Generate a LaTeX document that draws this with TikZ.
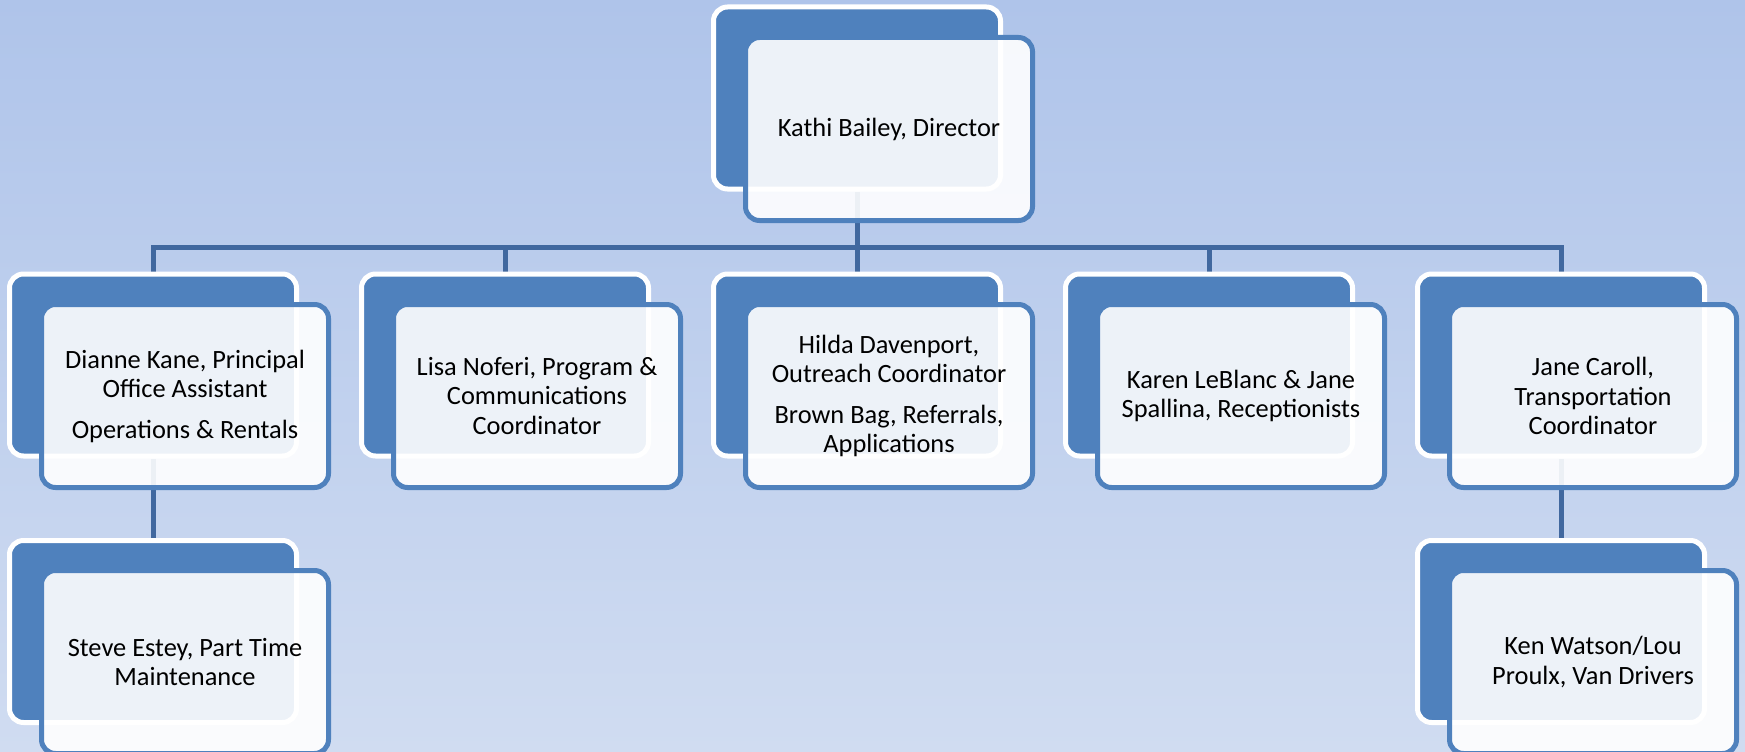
\documentclass[tikz,border=0pt]{standalone}
\usepackage{fontspec}
\setmainfont{Carlito}
\definecolor{bgtop}{HTML}{AFC4EA}
\definecolor{bgbot}{HTML}{D0DCF1}
\definecolor{boxblue}{HTML}{4F81BD}
\definecolor{linkblue}{HTML}{41689F}
\pgfdeclarelayer{bg}
\pgfdeclarelayer{background}
\pgfsetlayers{bg,background,main}
\tikzset{
  backbox/.style={draw=white, line width=5pt, fill=boxblue, rounded corners=14pt,
    minimum width=287pt, minimum height=182pt, inner sep=0pt},
  frontbox/.style={draw=boxblue, line width=5pt, fill=white, fill opacity=0.9,
    text opacity=1, rounded corners=14pt, minimum width=287pt, minimum height=183pt,
    inner sep=0pt, align=center, font=\fontsize{26.4}{29.5}\selectfont},
  conn/.style={draw=linkblue, line width=5pt, line join=miter}
}
\begin{document}
\begin{tikzpicture}[x=1pt,y=-1pt]
\useasboundingbox (0,0) rectangle (1745,752);
% top
\node[backbox] (b0) at (857,98) {};
\node[frontbox] (f0) at (889,129) {Kathi Bailey, Director};
% level 2
\node[backbox] (b1) at (153,365) {};
\node[frontbox] (f1) at (185,396) {Dianne Kane, Principal\\Office Assistant\\[11pt]Operations \& Rentals};
\node[backbox] (b2) at (505,365) {};
\node[frontbox] (f2) at (537,396) {Lisa Noferi, Program \&\\Communications\\Coordinator};
\node[backbox] (b3) at (857,365) {};
\node[frontbox] (f3) at (889,396) {Hilda Davenport,\\Outreach Coordinator\\[11pt]Brown Bag, Referrals,\\Applications};
\node[backbox] (b4) at (1209,365) {};
\node[frontbox] (f4) at (1241,396) {Karen LeBlanc \& Jane\\Spallina, Receptionists};
\node[backbox] (b5) at (1561,365) {};
\node[frontbox] (f5) at (1593,396) {Jane Caroll,\\Transportation\\Coordinator};
% level 3
\node[backbox] (b6) at (153,631.5) {};
\node[frontbox] (f6) at (185,662) {Steve Estey, Part Time\\Maintenance};
\node[backbox] (b7) at (1561,631.5) {};
\node[frontbox] (f7) at (1593,662) {Ken Watson/Lou\\Proulx, Van Drivers};
\coordinate (bus) at (0,247.5);
\begin{pgfonlayer}{bg}
\shade[top color=bgtop, bottom color=bgbot] (0,0) rectangle (1745,752);
\end{pgfonlayer}
\begin{pgfonlayer}{background}
\draw[conn] (b0.south) -- (b0.south |- bus);
\draw[conn] (b1.north) |- (b5.north |- bus) -- (b5.north);
\draw[conn] (b2.north) -- (b2.north |- bus);
\draw[conn] (b3.north) -- (b3.north |- bus);
\draw[conn] (b4.north) -- (b4.north |- bus);
\draw[conn] (b1.south) -- (b6.north);
\draw[conn] (b5.south) -- (b7.north);
\end{pgfonlayer}
\end{tikzpicture}
\end{document}
